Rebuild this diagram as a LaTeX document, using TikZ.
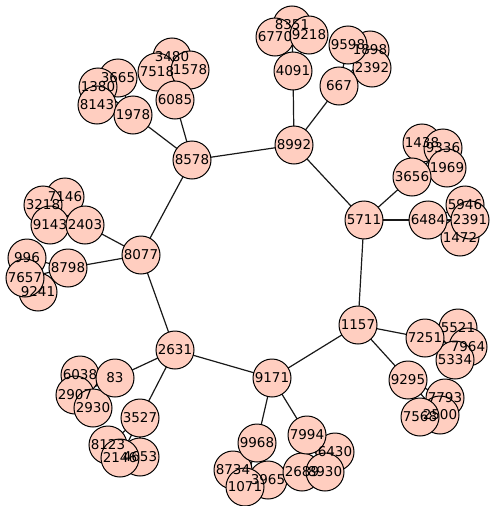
\documentclass[tikz,border=0pt]{standalone}
\usepackage{fontspec}
\setmainfont{DejaVu Sans}
\definecolor{vfill}{RGB}{255,206,192}
\pgfdeclarelayer{labels}
\pgfsetlayers{main,labels}
\tikzset{
  vert/.style={circle, draw=black, line width=1pt, fill=vfill, minimum size=38pt, inner sep=0pt},
  lbl/.style={inner sep=0pt, font=\fontsize{13.5}{13.5}\selectfont, text=black},
  link/.style={draw=black!90, line width=1.2pt}
}
\begin{document}
\begin{tikzpicture}[x=1pt, y=-1pt]
\useasboundingbox (0,0) rectangle (490,506);
% vertex positions
\foreach \n/\px/\py in {
  8992/294/145, 8578/192/160, 8077/141/255, 2631/175/350, 9171/272/378, 1157/358/325, 5711/364/220,
  4091/293/71, 667/339/86,
  8351/292/25, 6770/275/37, 9218/309/35,
  9598/348/45, 1898/370/50, 2392/372/68,
  1978/133/115, 6085/175/100,
  3665/118/78, 1380/98/87, 8143/97/105,
  3480/172/57, 7518/157/72, 1578/190/70,
  2403/85/225, 8798/68/268,
  7146/65/197, 3218/43/205, 9143/50/225,
  996/27/258, 7657/25/278, 9241/38/292,
  3656/412/177, 6484/428/220,
  1438/422/143, 9336/443/148, 1969/447/168,
  5946/465/205, 2391/470/220, 1472/460/237,
  7251/425/338, 9295/408/380,
  5521/458/328, 7964/468/347, 5334/455/360,
  7793/445/398, 2500/440/415, 7568/420/417,
  83/115/378, 3527/140/418,
  6038/80/375, 2907/75/395, 2930/93/408,
  8123/108/445, 4653/140/457, 2146/120/458,
  9968/257/443, 7994/307/435,
  8734/233/470, 3965/268/480, 1071/245/487,
  6430/335/452, 8930/325/472, 2689/302/472}
  \coordinate (p\n) at (\px,\py);
% links
\foreach \a/\b in {
  8992/8578, 8578/8077, 8077/2631, 2631/9171, 9171/1157, 1157/5711, 5711/8992,
  8992/4091, 8992/667, 4091/8351, 4091/6770, 4091/9218, 667/9598, 667/1898, 667/2392,
  8578/1978, 8578/6085, 1978/3665, 1978/1380, 1978/8143, 6085/3480, 6085/7518, 6085/1578,
  8077/2403, 8077/8798, 2403/7146, 2403/3218, 2403/9143, 8798/996, 8798/7657, 8798/9241,
  5711/3656, 5711/6484, 3656/1438, 3656/9336, 3656/1969, 6484/5946, 6484/2391, 6484/1472,
  1157/7251, 1157/9295, 7251/5521, 7251/7964, 7251/5334, 9295/7793, 9295/2500, 9295/7568,
  2631/83, 2631/3527, 83/6038, 83/2907, 83/2930, 3527/8123, 3527/4653, 3527/2146,
  9171/9968, 9171/7994, 9968/8734, 9968/3965, 9968/1071, 7994/6430, 7994/8930, 7994/2689}
  \draw[link] (p\a) -- (p\b);
% vertex discs, then their numbers on top
\foreach \n in {8992, 8578, 8077, 2631, 9171, 1157, 5711,
  8351, 6770, 9218, 4091, 1898, 2392, 9598, 667,
  3665, 1380, 8143, 1978, 3480, 7518, 1578, 6085,
  7146, 3218, 9143, 2403, 996, 9241, 7657, 8798,
  1438, 9336, 1969, 3656, 5946, 1472, 2391, 6484,
  5521, 7964, 5334, 7251, 7793, 2500, 7568, 9295,
  6038, 2907, 2930, 83, 8123, 4653, 2146, 3527,
  8734, 3965, 1071, 9968, 6430, 2689, 8930, 7994}
{
  \node[vert] (v\n) at (p\n) {};
  \begin{pgfonlayer}{labels}
    \node[lbl] (t\n) at (v\n) {\n};
  \end{pgfonlayer}
}
\end{tikzpicture}
\end{document}
